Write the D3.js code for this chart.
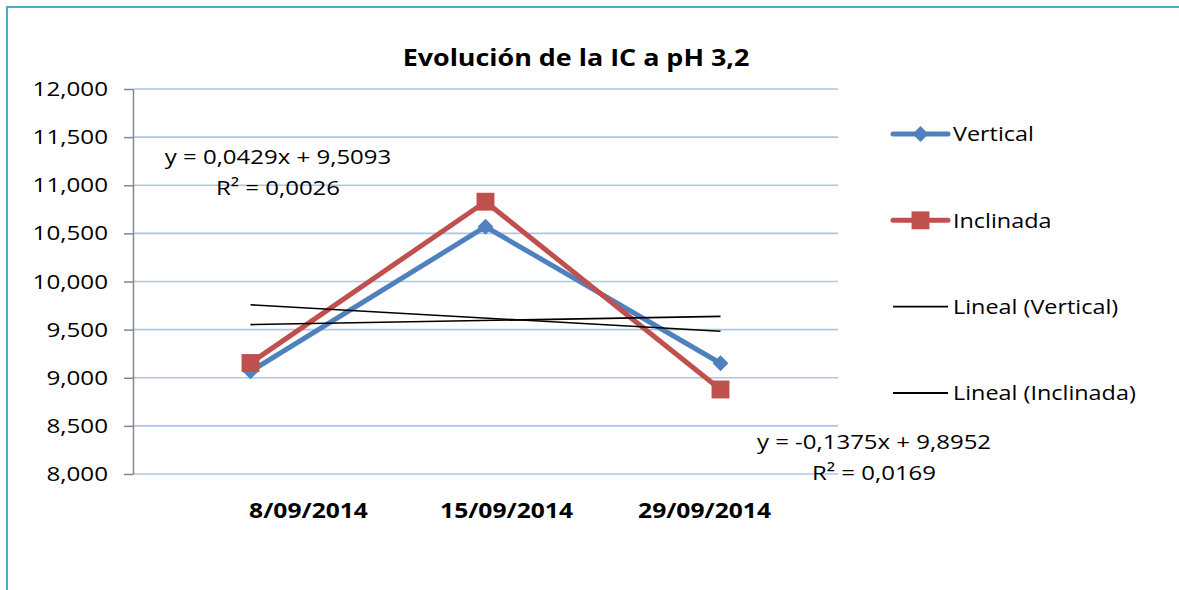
<!DOCTYPE html>
<html>
<head>
<meta charset="utf-8">
<script src="https://cdn.jsdelivr.net/npm/d3@7"></script>
<style>
  html, body { margin: 0; padding: 0; background: #fff; }
  svg { display: block; font-family: "Open Sans", sans-serif; }
</style>
</head>
<body>
<svg id="chart" width="1179" height="590"></svg>
<script>
// ---- data ----
const categories = ["8/09/2014", "15/09/2014", "29/09/2014"];
const vertical = [9.066, 10.569, 9.151];
const inclinada = [9.153, 10.829, 8.878];
const seriesNames = ["Vertical", "Inclinada"];
const trendSlope = [0.0429, -0.1375];
const trendIntercept = [9.5093, 9.8952];
const trendR2 = [0.0026, 0.0169];
const yTicks = [8, 8.5, 9, 9.5, 10, 10.5, 11, 11.5, 12];
const legendLabels = ["Vertical", "Inclinada", "Lineal (Vertical)", "Lineal (Inclinada)"];
const title = "Evolución de la IC a pH 3,2";

// ---- look ----
const BLUE = "#4F81BD", RED = "#C0504D", GRID = "#AFC5E4", AXIS = "#868686";
const FS = 20.5;   // body text size
const HX = 1.17;   // horizontal text stretch

const es = d3.formatLocale({ decimal: ",", thousands: ".", grouping: [3], currency: ["", ""], minus: "-" });
const fmtTick = es.format(".3f");
const fmt4 = es.format(".4f");

const svg = d3.select("#chart");

// outer frame
svg.append("rect").attr("x", 7).attr("y", 7).attr("width", 1400).attr("height", 800)
  .attr("fill", "none").attr("stroke", "#4BACC6").attr("stroke-width", 2);

// plot area
const plot = { left: 133, right: 838, top: 89, bottom: 474 };
const x = d3.scaleBand().domain(categories).range([plot.left, plot.right]);
const cx = c => x(c) + x.bandwidth() / 2;
const y = d3.scaleLinear().domain([8, 12]).range([plot.bottom, plot.top]);
const xIdx = d3.scaleLinear().domain([1, categories.length]).range([cx(categories[0]), cx(categories[categories.length - 1])]);

// title
svg.append("text").attr("x", 576).attr("y", 66).attr("text-anchor", "middle")
  .attr("font-size", 24).attr("font-weight", 700).attr("data-hx", 1.12).text(title);

// gridlines
svg.append("g").selectAll("line").data(yTicks).join("line")
  .attr("x1", plot.left).attr("x2", plot.right)
  .attr("y1", d => y(d)).attr("y2", d => y(d))
  .attr("stroke", GRID).attr("stroke-width", 1.6);

// y axis
const yAxis = svg.append("g").attr("transform", `translate(${plot.left},0)`)
  .call(d3.axisLeft(y).tickValues(yTicks).tickFormat(fmtTick).tickSize(9).tickSizeOuter(0).tickPadding(16));
yAxis.select(".domain").attr("stroke", AXIS).attr("stroke-width", 1.5);
yAxis.selectAll(".tick line").attr("stroke", AXIS).attr("stroke-width", 1.5);
yAxis.selectAll(".tick text").attr("font-size", FS).attr("font-family", "Open Sans").attr("fill", "#000")
  .attr("data-hx", 1.18);

// category labels
const xLab = d3.scalePoint().domain(categories).range([308, 704]);
const xAxis = svg.append("g").attr("transform", `translate(0,${plot.bottom})`)
  .call(d3.axisBottom(xLab).tickSize(0).tickPadding(29));
xAxis.select(".domain").remove();
xAxis.selectAll(".tick text").attr("font-size", FS).attr("font-weight", 700)
  .attr("font-family", "Open Sans").attr("fill", "#000").attr("data-hx", 1.2);

// series
const series = [
  { name: seriesNames[0], values: vertical, color: BLUE, marker: d3.symbolDiamond2, size: 160 },
  { name: seriesNames[1], values: inclinada, color: RED, marker: d3.symbolSquare, size: 320 }
];
const line = d3.line().x((d, i) => cx(categories[i])).y(d => y(d));

series.forEach(s => {
  const g = svg.append("g");
  g.append("path").attr("d", line(s.values)).attr("fill", "none")
    .attr("stroke", s.color).attr("stroke-width", 5).attr("stroke-linejoin", "round").attr("stroke-linecap", "round");
  g.selectAll("path.m").data(s.values).join("path").attr("class", "m")
    .attr("transform", (d, i) => `translate(${cx(categories[i])},${y(d)})`)
    .attr("d", d3.symbol(s.marker, s.size)).attr("fill", s.color);
});

// linear trendlines
trendSlope.forEach((m, k) => {
  const pts = [1, categories.length].map(t => [xIdx(t), y(m * t + trendIntercept[k])]);
  svg.append("path").attr("d", d3.line()(pts)).attr("fill", "none")
    .attr("stroke", "#000").attr("stroke-width", 1.6);
});

// trendline equations
const eqPos = [[278, 164], [874, 449]];
trendSlope.forEach((m, k) => {
  const eq = `y = ${fmt4(m)}x + ${fmt4(trendIntercept[k])}`;
  const t = svg.append("text").attr("text-anchor", "middle").attr("font-size", FS);
  t.append("tspan").attr("x", eqPos[k][0]).attr("y", eqPos[k][1]).text(eq);
  t.append("tspan").attr("x", eqPos[k][0]).attr("y", eqPos[k][1] + 31).text(`R² = ${fmt4(trendR2[k])}`);
});

// legend
const ly = d3.scalePoint().domain(legendLabels).range([134, 393]);
const lg = svg.append("g");
legendLabels.forEach((lab, i) => {
  const yy = ly(lab);
  const isSeries = i < 2;
  lg.append("line").attr("x1", 893).attr("x2", 948).attr("y1", yy).attr("y2", yy)
    .attr("stroke", isSeries ? series[i].color : "#000")
    .attr("stroke-width", isSeries ? 5 : 1.8).attr("stroke-linecap", isSeries ? "round" : "butt");
  if (isSeries) {
    lg.append("path").attr("transform", `translate(920.5,${yy})`)
      .attr("d", d3.symbol(series[i].marker, series[i].size)).attr("fill", series[i].color);
  }
  lg.append("text").attr("x", 953).attr("y", yy).attr("dy", "0.36em")
    .attr("font-size", FS).attr("data-hx", 1.14).text(lab);
});

// widen all text horizontally
svg.selectAll("text").each(function () {
  const k = +(this.getAttribute("data-hx") || HX);
  const tsp = this.querySelectorAll("tspan");
  const els = tsp.length ? Array.from(tsp) : [this];
  els.forEach(el => {
    const w = el.getComputedTextLength();
    el.setAttribute("textLength", (w * k).toFixed(1));
    el.setAttribute("lengthAdjust", "spacingAndGlyphs");
  });
});
</script>
</body>
</html>
